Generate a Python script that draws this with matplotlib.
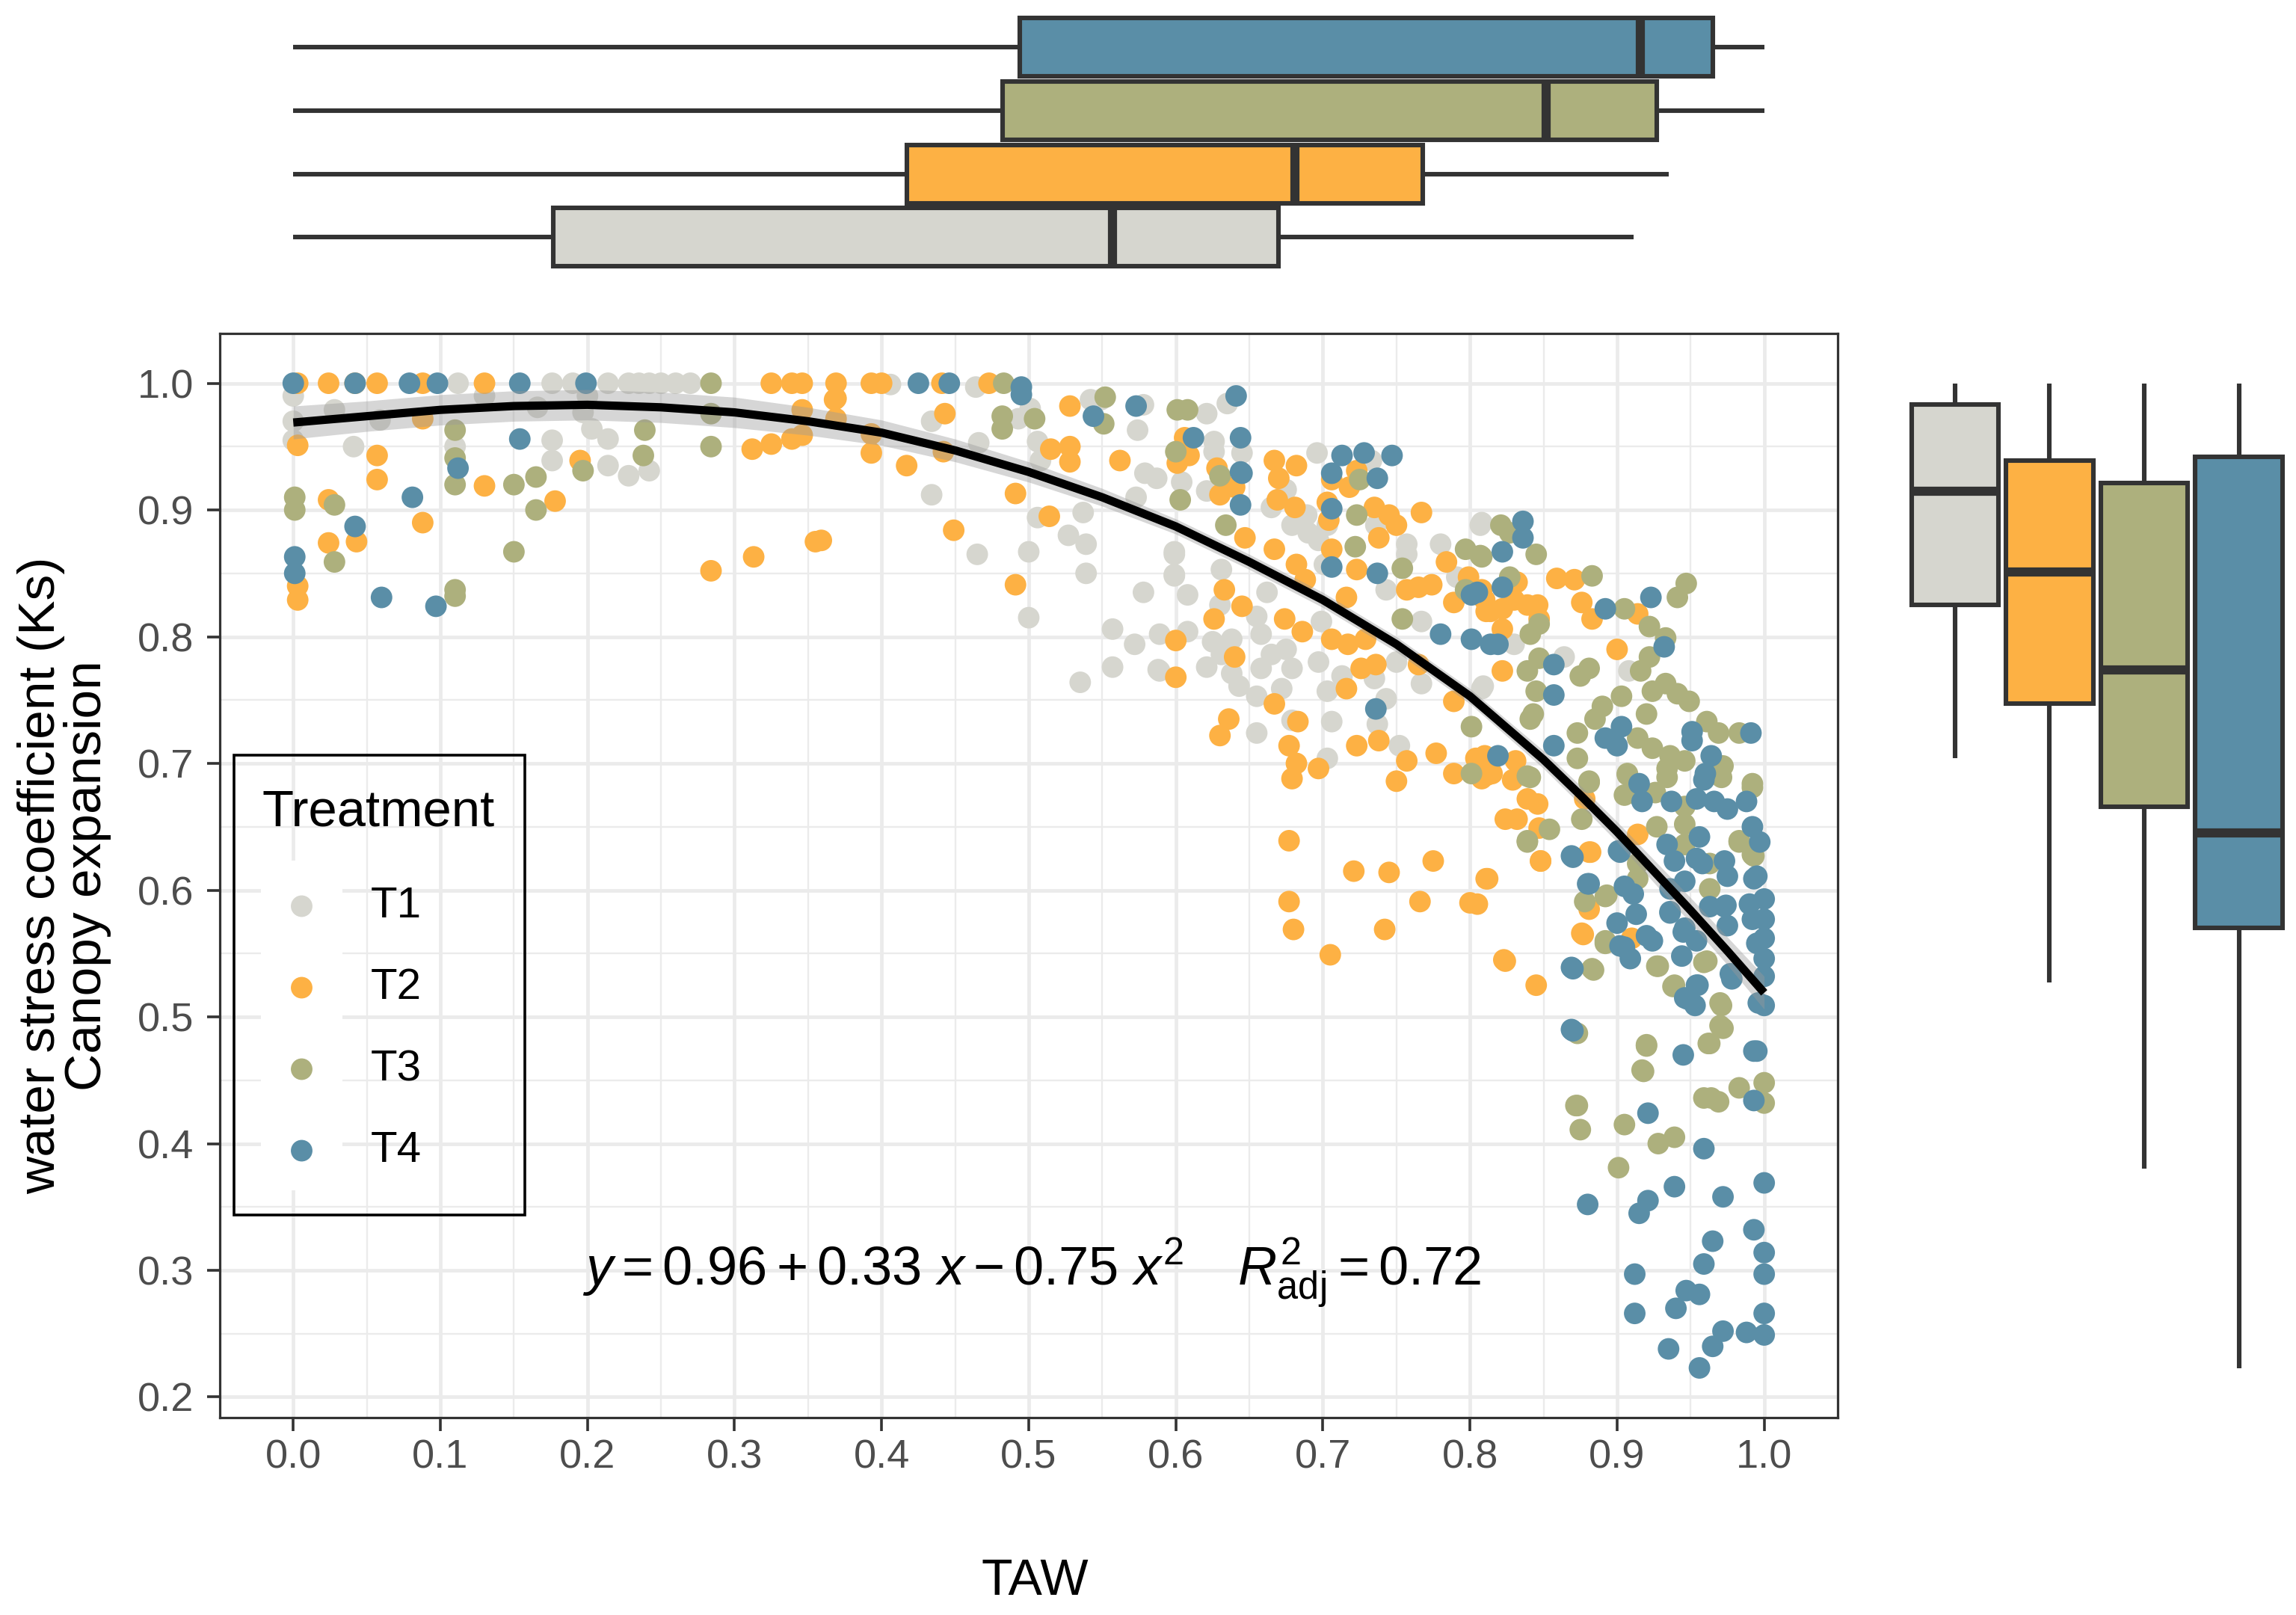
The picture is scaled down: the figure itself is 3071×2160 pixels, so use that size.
import matplotlib
matplotlib.use("Agg")
import matplotlib.pyplot as plt
from matplotlib.ticker import MultipleLocator, FormatStrFormatter
from matplotlib.patches import Rectangle

plt.rcParams['font.family'] = ['Liberation Sans', 'DejaVu Sans']
plt.rcParams['mathtext.fontset'] = 'custom'
plt.rcParams['mathtext.rm'] = 'Liberation Sans'
plt.rcParams['mathtext.it'] = 'Liberation Sans:italic'

treatments = ['T1', 'T2', 'T3', 'T4']
colors = ['#D6D6CF', '#FDB144', '#ADB07D', '#5A8EA7']
edge = '#333333'

# points (TAW, Ks)
t1_pts = [
    (0.0, 0.99), (0.0, 0.97), (0.0, 0.955), (0.028, 0.979), (0.041, 0.95), (0.059, 0.971),
    (0.11, 0.95), (0.112, 1.0), (0.13, 0.99), (0.166, 0.981), (0.176, 1.0), (0.176, 0.955),
    (0.176, 0.939), (0.19, 1.0), (0.197, 0.977), (0.2, 0.99), (0.203, 0.964), (0.214, 1.0),
    (0.214, 0.956), (0.214, 0.935), (0.228, 1.0), (0.228, 0.927), (0.235, 1.0), (0.242, 1.0),
    (0.242, 0.931), (0.25, 1.0), (0.26, 1.0), (0.27, 1.0),
    (0.406, 0.999), (0.464, 0.997), (0.434, 0.97), (0.434, 0.912), (0.466, 0.953), (0.465, 0.865),
    (0.5, 0.867), (0.5, 0.815), (0.493, 0.972), (0.501, 0.98), (0.506, 0.954), (0.508, 0.939),
    (0.537, 0.898), (0.506, 0.894), (0.527, 0.88), (0.539, 0.873), (0.539, 0.85), (0.535, 0.764),
    (0.557, 0.806), (0.557, 0.776), (0.572, 0.794), (0.578, 0.835), (0.579, 0.929), (0.574, 0.963),
    (0.578, 0.983), (0.542, 0.987), (0.549, 0.987), (0.573, 0.91),
    (0.588, 0.774), (0.599, 0.867), (0.599, 0.849), (0.621, 0.976), (0.626, 0.954), (0.635, 0.984),
    (0.587, 0.925), (0.604, 0.922), (0.621, 0.915), (0.645, 0.945), (0.626, 0.946), (0.665, 0.902),
    (0.675, 0.916), (0.679, 0.888), (0.689, 0.896), (0.69, 0.882), (0.697, 0.876), (0.703, 0.888),
    (0.696, 0.945), (0.733, 0.939), (0.736, 0.888), (0.757, 0.873), (0.78, 0.873), (0.808, 0.89),
    (0.791, 0.847), (0.743, 0.837), (0.767, 0.812), (0.757, 0.865), (0.599, 0.865), (0.599, 0.848),
    (0.608, 0.833), (0.589, 0.802), (0.608, 0.804), (0.589, 0.773), (0.631, 0.853), (0.63, 0.825),
    (0.655, 0.816), (0.662, 0.835), (0.699, 0.812), (0.701, 0.857), (0.625, 0.796), (0.621, 0.776),
    (0.631, 0.786), (0.638, 0.771), (0.643, 0.761), (0.658, 0.802), (0.665, 0.786), (0.675, 0.79),
    (0.679, 0.775), (0.658, 0.775), (0.655, 0.753), (0.672, 0.759), (0.638, 0.798), (0.697, 0.78),
    (0.713, 0.769), (0.703, 0.757), (0.706, 0.733), (0.679, 0.734), (0.655, 0.724), (0.735, 0.767),
    (0.743, 0.751), (0.737, 0.731), (0.75, 0.78), (0.767, 0.763), (0.752, 0.714), (0.703, 0.704),
    (0.809, 0.761), (0.807, 0.888), (0.864, 0.784), (0.83, 0.794), (0.908, 0.773), (0.808, 0.759),
]
t2_pts = [
    (0.003, 1.0), (0.024, 1.0), (0.042, 1.0), (0.057, 1.0), (0.088, 1.0), (0.13, 1.0),
    (0.325, 1.0), (0.339, 1.0), (0.346, 1.0), (0.369, 1.0), (0.393, 1.0),
    (0.003, 0.951), (0.057, 0.943), (0.057, 0.924), (0.024, 0.908), (0.024, 0.874),
    (0.043, 0.875), (0.003, 0.84), (0.003, 0.829), (0.088, 0.89), (0.088, 0.972), (0.13, 0.919),
    (0.178, 0.907), (0.195, 0.939), (0.284, 0.852), (0.313, 0.863), (0.355, 0.875), (0.312, 0.948),
    (0.325, 0.952), (0.339, 0.956), (0.346, 0.959), (0.346, 0.979), (0.369, 0.988), (0.369, 0.972),
    (0.393, 0.945), (0.393, 0.96), (0.368, 0.987), (0.359, 0.876),
    (0.4, 1.0), (0.441, 1.0), (0.473, 1.0), (0.443, 0.976), (0.417, 0.935), (0.449, 0.884),
    (0.491, 0.913), (0.491, 0.841), (0.514, 0.895), (0.515, 0.948), (0.528, 0.95), (0.528, 0.938),
    (0.528, 0.982), (0.562, 0.939), (0.442, 0.946),
    (0.606, 0.957), (0.6, 0.768), (0.6, 0.797),
    (0.601, 0.937), (0.609, 0.943), (0.628, 0.933), (0.64, 0.918), (0.63, 0.912), (0.667, 0.939),
    (0.682, 0.935), (0.67, 0.925), (0.669, 0.908), (0.681, 0.902), (0.706, 0.924), (0.718, 0.918),
    (0.723, 0.931), (0.703, 0.906), (0.704, 0.892), (0.767, 0.898), (0.735, 0.902), (0.745, 0.896),
    (0.75, 0.888), (0.738, 0.878), (0.647, 0.878), (0.667, 0.869), (0.706, 0.869), (0.682, 0.857),
    (0.688, 0.845), (0.723, 0.853), (0.716, 0.831), (0.757, 0.837), (0.765, 0.839), (0.774, 0.841),
    (0.784, 0.859), (0.789, 0.827), (0.808, 0.837), (0.811, 0.82), (0.799, 0.847), (0.633, 0.837),
    (0.645, 0.824), (0.626, 0.814), (0.674, 0.814), (0.686, 0.804), (0.706, 0.798), (0.717, 0.794),
    (0.729, 0.798), (0.64, 0.784), (0.716, 0.759), (0.726, 0.775),
    (0.736, 0.778), (0.765, 0.778), (0.789, 0.749), (0.667, 0.747), (0.636, 0.735), (0.63, 0.722),
    (0.683, 0.733), (0.677, 0.714), (0.682, 0.7), (0.679, 0.688), (0.697, 0.696), (0.723, 0.714),
    (0.738, 0.718), (0.757, 0.702), (0.777, 0.708), (0.789, 0.692), (0.804, 0.704), (0.808, 0.688),
    (0.75, 0.686), (0.859, 0.846), (0.871, 0.845), (0.832, 0.843), (0.876, 0.827), (0.883, 0.814),
    (0.914, 0.818), (0.9, 0.79), (0.822, 0.773), (0.81, 0.829), (0.822, 0.822), (0.839, 0.825),
    (0.846, 0.825), (0.83, 0.829), (0.847, 0.814), (0.822, 0.806), (0.814, 0.82), (0.81, 0.706),
    (0.831, 0.702), (0.815, 0.692), (0.812, 0.691), (0.829, 0.687), (0.839, 0.672), (0.846, 0.668),
    (0.824, 0.656), (0.832, 0.656), (0.847, 0.649), (0.848, 0.623), (0.812, 0.609), (0.881, 0.63),
    (0.878, 0.672), (0.914, 0.644), (0.881, 0.585), (0.876, 0.566), (0.91, 0.562), (0.824, 0.544),
    (0.845, 0.525), (0.805, 0.589), (0.677, 0.639), (0.721, 0.615), (0.745, 0.614), (0.775, 0.623),
    (0.811, 0.609), (0.677, 0.591), (0.766, 0.591), (0.8, 0.59), (0.68, 0.569), (0.742, 0.569),
    (0.705, 0.549), (0.823, 0.545), (0.848, 0.623), (0.882, 0.63), (0.877, 0.565),
]
t3_pts = [
    (0.001, 0.91), (0.001, 0.9), (0.028, 0.904), (0.028, 0.859), (0.11, 0.963), (0.11, 0.941),
    (0.11, 0.92), (0.11, 0.837), (0.11, 0.832), (0.15, 0.92), (0.165, 0.926), (0.165, 0.9),
    (0.15, 0.867), (0.197, 0.931), (0.239, 0.963), (0.238, 0.943), (0.284, 0.95), (0.284, 0.976),
    (0.284, 1.0), (0.483, 1.0), (0.482, 0.974), (0.482, 0.964), (0.504, 0.972), (0.552, 0.989),
    (0.551, 0.968), (0.601, 0.979), (0.608, 0.979), (0.6, 0.946), (0.603, 0.908),
    (0.63, 0.927), (0.634, 0.888), (0.723, 0.896), (0.722, 0.871),
    (0.725, 0.924), (0.754, 0.854), (0.797, 0.869), (0.808, 0.863), (0.797, 0.837), (0.754, 0.814),
    (0.801, 0.729), (0.801, 0.692), (0.821, 0.888), (0.827, 0.882), (0.807, 0.864), (0.845, 0.865),
    (0.827, 0.847), (0.883, 0.848), (0.847, 0.81), (0.841, 0.802), (0.847, 0.783), (0.839, 0.773),
    (0.875, 0.769), (0.881, 0.775), (0.845, 0.757), (0.843, 0.739), (0.841, 0.735), (0.873, 0.724),
    (0.873, 0.704), (0.885, 0.735), (0.89, 0.745), (0.903, 0.753), (0.905, 0.822), (0.922, 0.808),
    (0.933, 0.799), (0.922, 0.784), (0.916, 0.773), (0.924, 0.757), (0.933, 0.763), (0.941, 0.755),
    (0.949, 0.749), (0.92, 0.739), (0.914, 0.72), (0.924, 0.712), (0.936, 0.706), (0.946, 0.702),
    (0.934, 0.696), (0.907, 0.692), (0.941, 0.831), (0.947, 0.842), (0.961, 0.733), (0.969, 0.724),
    (0.983, 0.724), (0.972, 0.698), (0.992, 0.684), (0.881, 0.686), (0.839, 0.69), (0.841, 0.689),
    (0.854, 0.648), (0.839, 0.638), (0.876, 0.656), (0.881, 0.685), (0.907, 0.691), (0.905, 0.675),
    (0.914, 0.675), (0.926, 0.677), (0.934, 0.689), (0.971, 0.689), (0.992, 0.681), (0.927, 0.65),
    (0.946, 0.666), (0.946, 0.652), (0.946, 0.636), (0.914, 0.621), (0.914, 0.609), (0.963, 0.621),
    (0.963, 0.601), (0.983, 0.638), (0.992, 0.628), (0.878, 0.591), (0.892, 0.595), (0.892, 0.56),
    (0.883, 0.538), (0.927, 0.54), (0.939, 0.525), (0.961, 0.544), (0.971, 0.509), (0.972, 0.491),
    (0.963, 0.479), (0.92, 0.477), (0.918, 0.457), (0.873, 0.43), (1.0, 0.448), (0.983, 0.444),
    (0.964, 0.436), (0.873, 0.487), (0.92, 0.478), (0.962, 0.479), (0.917, 0.458), (1.0, 0.432),
    (0.959, 0.436), (0.969, 0.433), (0.872, 0.43), (0.875, 0.411), (0.905, 0.415), (0.928, 0.4),
    (0.939, 0.405), (0.901, 0.381), (0.97, 0.511), (0.97, 0.493), (0.839, 0.639), (0.893, 0.596),
    (0.892, 0.558), (0.884, 0.537), (0.928, 0.54), (0.938, 0.524), (0.959, 0.543), (0.983, 0.639),
    (0.993, 0.627),
]
t4_pts = [
    (0.0, 1.0), (0.042, 1.0), (0.079, 1.0), (0.098, 1.0), (0.154, 1.0), (0.199, 1.0),
    (0.425, 1.0), (0.446, 1.0), (0.495, 0.997), (0.495, 0.991), (0.001, 0.863), (0.001, 0.85),
    (0.042, 0.887), (0.06, 0.831), (0.097, 0.824), (0.081, 0.91), (0.112, 0.933), (0.154, 0.956),
    (0.544, 0.974), (0.573, 0.982), (0.641, 0.99), (0.644, 0.957), (0.612, 0.957), (0.644, 0.93),
    (0.644, 0.904), (0.645, 0.929), (0.713, 0.943), (0.728, 0.945), (0.747, 0.943),
    (0.737, 0.925), (0.706, 0.929), (0.706, 0.901), (0.737, 0.85), (0.706, 0.855), (0.78, 0.802),
    (0.801, 0.798), (0.814, 0.794), (0.801, 0.833), (0.736, 0.743), (0.836, 0.891), (0.836, 0.878),
    (0.822, 0.867), (0.822, 0.839), (0.805, 0.835), (0.819, 0.794), (0.857, 0.778), (0.857, 0.754),
    (0.892, 0.822), (0.923, 0.831), (0.932, 0.792), (0.903, 0.729), (0.9, 0.714), (0.892, 0.72),
    (0.951, 0.725), (0.951, 0.718), (0.991, 0.724), (0.964, 0.706), (0.96, 0.692), (0.857, 0.714),
    (0.819, 0.706), (0.915, 0.684), (0.917, 0.67), (0.937, 0.67), (0.954, 0.672),
    (0.966, 0.67), (0.975, 0.664), (0.988, 0.67), (0.959, 0.687), (0.992, 0.65), (0.997, 0.638),
    (0.956, 0.642), (0.934, 0.636), (0.939, 0.623), (0.902, 0.63), (0.87, 0.626), (0.954, 0.625),
    (0.973, 0.623), (0.975, 0.611), (0.995, 0.611), (0.881, 0.605), (0.905, 0.603), (0.911, 0.597),
    (0.913, 0.581), (0.936, 0.601), (0.946, 0.607), (0.936, 0.583), (0.9, 0.574), (0.924, 0.56),
    (0.902, 0.556), (0.909, 0.546), (0.946, 0.57), (0.954, 0.56), (0.963, 0.587), (0.973, 0.587),
    (0.975, 0.572), (0.99, 0.589), (1.0, 0.593), (1.0, 0.577), (1.0, 0.562), (1.0, 0.546),
    (1.0, 0.532), (1.0, 0.509), (0.995, 0.558), (0.992, 0.577), (0.944, 0.548), (0.978, 0.53),
    (0.954, 0.525), (0.946, 0.515), (0.953, 0.509), (0.87, 0.538), (0.87, 0.489), (0.945, 0.47),
    (0.995, 0.473), (0.993, 0.434), (0.869, 0.49), (0.993, 0.473),
    (0.921, 0.424), (0.959, 0.396), (1.0, 0.369), (0.939, 0.366), (0.972, 0.358), (0.88, 0.352),
    (0.921, 0.355), (0.915, 0.345), (0.993, 0.332), (0.965, 0.323), (1.0, 0.314), (0.959, 0.305),
    (1.0, 0.297), (0.912, 0.297), (0.947, 0.284), (0.956, 0.281), (0.94, 0.27), (0.912, 0.266),
    (1.0, 0.266), (0.972, 0.252), (0.988, 0.251), (1.0, 0.249), (0.965, 0.24), (0.935, 0.238),
    (0.956, 0.223), (0.869, 0.627), (0.869, 0.539), (0.88, 0.605), (0.901, 0.631), (0.905, 0.555),
    (0.92, 0.564), (0.936, 0.582), (0.945, 0.567), (0.955, 0.525), (0.948, 0.514), (0.977, 0.534),
    (0.993, 0.609), (0.996, 0.511), (0.958, 0.621), (0.974, 0.588),
]
all_pts = [t1_pts, t2_pts, t3_pts, t4_pts]

# fitted curve and its confidence band
smooth_x = [0.0, 0.05, 0.1, 0.15, 0.2, 0.25, 0.3, 0.35, 0.4, 0.45, 0.5, 0.55,
            0.6, 0.65, 0.7, 0.75, 0.8, 0.85, 0.875, 0.9, 0.925, 0.95, 0.975, 1.0]
smooth_y = [0.969, 0.974, 0.979, 0.982, 0.983, 0.981, 0.977, 0.97, 0.961, 0.947, 0.93, 0.91,
            0.887, 0.859, 0.829, 0.794, 0.753, 0.703, 0.675, 0.646, 0.615, 0.584, 0.552, 0.519]
smooth_se = [0.013, 0.012, 0.012, 0.012, 0.012, 0.012, 0.012, 0.011, 0.01, 0.009, 0.008, 0.007,
             0.006, 0.006, 0.006, 0.006, 0.006, 0.007, 0.0075, 0.008, 0.009, 0.01, 0.011, 0.013]

# marginal box plot statistics
taw_q1 = [0.177, 0.417, 0.482, 0.494]
taw_med = [0.557, 0.681, 0.852, 0.916]
taw_q3 = [0.670, 0.768, 0.927, 0.965]
taw_lo = [0.0, 0.0, 0.0, 0.0]
taw_hi = [0.911, 0.935, 1.0, 1.0]

ks_q1 = [0.825, 0.747, 0.666, 0.570]
ks_med = [0.915, 0.851, 0.774, 0.645]
ks_q3 = [0.983, 0.939, 0.921, 0.942]
ks_lo = [0.704, 0.527, 0.380, 0.223]
ks_hi = [1.0, 1.0, 1.0, 1.0]

fig = plt.figure(figsize=(15.355, 10.8), dpi=200)
ax = fig.add_axes([0.0957, 0.1224, 0.7047, 0.6709])
ax_top = fig.add_axes([0.0957, 0.8296, 0.7047, 0.1646])
ax_right = fig.add_axes([0.8267, 0.1224, 0.1732, 0.6709])

ax.set_axisbelow(True)
for pts, name, col in zip(all_pts, treatments, colors):
    ax.scatter([p[0] for p in pts], [p[1] for p in pts], s=108, color=col,
               edgecolors='none', label=name, zorder=2)

lo = [m - s for m, s in zip(smooth_y, smooth_se)]
hi = [m + s for m, s in zip(smooth_y, smooth_se)]
ax.fill_between(smooth_x, lo, hi, color='#999999', alpha=0.4, lw=0, zorder=3)
ax.plot(smooth_x, smooth_y, color='black', lw=4, zorder=4, solid_capstyle='butt',
        solid_joinstyle='round')

ax.text(0.502, 0.288, r'$y = 0.96 + 0.33\ x - 0.75\ x^{2}\quad\, R^{2}_{\mathrm{adj}} = 0.72$',
        fontsize=26, ha='center', va='baseline', zorder=5)

ax.set_xlim(-0.05, 1.05)
ax.set_ylim(0.184, 1.039)
ax.xaxis.set_major_locator(MultipleLocator(0.1))
ax.yaxis.set_major_locator(MultipleLocator(0.1))
ax.xaxis.set_minor_locator(MultipleLocator(0.05))
ax.yaxis.set_minor_locator(MultipleLocator(0.05))
ax.xaxis.set_major_formatter(FormatStrFormatter('%.1f'))
ax.yaxis.set_major_formatter(FormatStrFormatter('%.1f'))
ax.grid(which='major', color='#EBEBEB', lw=1.7)
ax.grid(which='minor', color='#EBEBEB', lw=0.85)
ax.tick_params(which='major', length=6.3, width=1.3, color=edge, labelcolor='#4D4D4D',
               labelsize=19.5)
ax.tick_params(axis='x', pad=4)
ax.tick_params(axis='y', pad=6)
ax.tick_params(which='minor', length=0)
for sp in ax.spines.values():
    sp.set_color(edge)
    sp.set_linewidth(1.15)

# legend: white key column and black frame like the original
ax.add_patch(Rectangle((0.0253, 0.2095), 0.0507, 0.304, transform=ax.transAxes,
                       facecolor='white', edgecolor='none', zorder=1))
ax.add_patch(Rectangle((0.00905, 0.1865), 0.1797, 0.4243, transform=ax.transAxes,
                       facecolor='none', edgecolor='black', lw=1.3, zorder=5))
leg = ax.legend(title='Treatment', loc='upper left', bbox_to_anchor=(0.00905, 0.6061),
                borderaxespad=0, fontsize=21, title_fontsize=24.8, frameon=False,
                borderpad=0.64, handlelength=1.806, handletextpad=0.677, labelspacing=0.943,
                alignment='left', scatterpoints=1)
if hasattr(leg, '_legend_box'):
    leg._legend_box.sep = 24

fig.text(0.4509, 0.0209, 'TAW', fontsize=24.5, ha='center', va='center')
fig.text(0.0281, 0.4578, 'water stress coefficient (Ks)\nCanopy expansion', fontsize=25,
         rotation=90, ha='center', va='center', linespacing=0.95)

box_kw = dict(showcaps=False, showfliers=False, patch_artist=True, widths=0.92,
              boxprops=dict(edgecolor=edge, linewidth=2.2),
              whiskerprops=dict(color=edge, linewidth=2.2, solid_capstyle='butt'),
              medianprops=dict(color=edge, linewidth=4.4, solid_capstyle='butt'))

top_stats = [dict(q1=a, med=b, q3=c, whislo=d, whishi=e, fliers=[])
             for a, b, c, d, e in zip(taw_q1, taw_med, taw_q3, taw_lo, taw_hi)]
bp = ax_top.bxp(top_stats, positions=[1, 2, 3, 4], orientation='horizontal', **box_kw)
for patch, col in zip(bp['boxes'], colors):
    patch.set_facecolor(col)
ax_top.set_xlim(ax.get_xlim())
ax_top.set_ylim(0.4, 4.6)
ax_top.axis('off')

right_stats = [dict(q1=a, med=b, q3=c, whislo=d, whishi=e, fliers=[])
               for a, b, c, d, e in zip(ks_q1, ks_med, ks_q3, ks_lo, ks_hi)]
bp = ax_right.bxp(right_stats, positions=[1, 2, 3, 4], **box_kw)
for patch, col in zip(bp['boxes'], colors):
    patch.set_facecolor(col)
ax_right.set_ylim(ax.get_ylim())
ax_right.set_xlim(0.4, 4.6)
ax_right.axis('off')

fig.savefig('out.png', dpi=200, facecolor='white')
